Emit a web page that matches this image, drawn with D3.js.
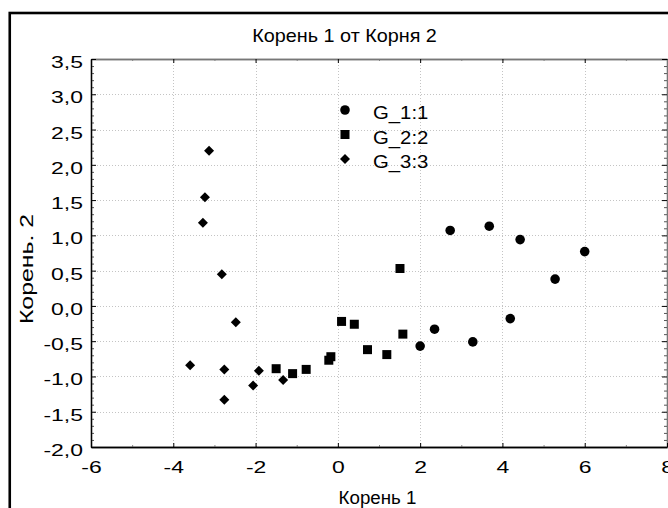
<!DOCTYPE html>
<html><head><meta charset="utf-8">
<script src="https://cdn.jsdelivr.net/npm/d3@7"></script>
<style>html,body{margin:0;padding:0;background:#fff;overflow:hidden}svg{display:block}</style>
</head><body><svg id="c" width="668" height="508"></svg>
<script>
// ---- data ----
const chartTitle = "Корень 1 от Корня 2";
const xLabel = "Корень 1";
const yLabel = "Корень. 2";
const seriesNames = ["G_1:1", "G_2:2", "G_3:3"];
const g1x = [2.73, 3.68, 4.43, 6.00, 5.28, 4.19, 3.28, 2.35, 2.00];
const g1y = [1.07, 1.13, 0.94, 0.77, 0.38, -0.18, -0.51, -0.33, -0.57];
const g2x = [1.51, 0.09, 0.40, 1.58, 0.72, 1.19, -0.22, -0.17, -0.77, -1.10, -1.50];
const g2y = [0.53, -0.22, -0.26, -0.40, -0.62, -0.69, -0.77, -0.72, -0.90, -0.96, -0.89];
const g3x = [-3.13, -3.23, -3.28, -2.82, -2.48, -3.59, -2.76, -2.76, -1.92, -2.06, -1.33];
const g3y = [2.20, 1.54, 1.18, 0.45, -0.23, -0.84, -0.90, -1.33, -0.92, -1.13, -1.05];
const xTickValues = [-6, -4, -2, 0, 2, 4, 6, 8];
const xTickLabels = ["-6", "-4", "-2", "0", "2", "4", "6", "8"];
const yTickValues = [-2.0, -1.5, -1.0, -0.5, 0.0, 0.5, 1.0, 1.5, 2.0, 2.5, 3.0, 3.5];
const yTickLabels = ["-2,0", "-1,5", "-1,0", "-0,5", "0,0", "0,5", "1,0", "1,5", "2,0", "2,5", "3,0", "3,5"];
const xGridValues = [-4, -2, 0, 2, 4, 6];
const yGridValues = [-1.5, -1.0, -0.5, 0.0, 0.5, 1.0, 1.5, 2.0, 2.5, 3.0];
const xMinorValues = [-5, -3, -1, 1, 3, 5, 7];
const yMinorValues = [-1.9,-1.8,-1.7,-1.6,-1.4,-1.3,-1.2,-1.1,-0.9,-0.8,-0.7,-0.6,-0.4,-0.3,-0.2,-0.1,
  0.1,0.2,0.3,0.4,0.6,0.7,0.8,0.9,1.1,1.2,1.3,1.4,1.6,1.7,1.8,1.9,2.1,2.2,2.3,2.4,2.6,2.7,2.8,2.9,3.1,3.2,3.3,3.4];

// ---- layout ----
const FONT = "'Liberation Sans', Arial, sans-serif";
const L = 91, R = 667, T = 59, B = 447;
const svg = d3.select("#c");
const x = d3.scaleLinear().domain([-6, 8]).range([L, R]);
const y = d3.scaleLinear().domain([-2, 3.5]).range([B, T]);

svg.append("rect").attr("width", 668).attr("height", 508).attr("fill", "#fff");
// outer frame
svg.append("rect").attr("x", 9.75).attr("y", 13).attr("width", 720).attr("height", 540)
  .attr("fill", "none").attr("stroke", "#000").attr("stroke-width", 2.6);

// grid
const grid = svg.append("g").attr("stroke", "#c4c4c4").attr("stroke-width", 1).attr("stroke-dasharray", "1,2");
grid.selectAll("line.vx").data(xGridValues).join("line")
  .attr("x1", d => Math.round(x(d)) + 0.5).attr("x2", d => Math.round(x(d)) + 0.5).attr("y1", T).attr("y2", B);
grid.selectAll("line.hy").data(yGridValues).join("line").attr("class", "hy")
  .attr("y1", d => Math.round(y(d)) + 0.5).attr("y2", d => Math.round(y(d)) + 0.5).attr("x1", L).attr("x2", R);

function styleAxis(g, domainColor, tickColor) {
  g.select(".domain").attr("stroke", domainColor).attr("stroke-width", 1.3);
  g.selectAll(".tick line").attr("stroke", tickColor).attr("stroke-width", 1);
  g.selectAll(".tick text").remove();
}

// minor ticks
const minorB = svg.append("g").attr("transform", `translate(0,${B})`)
  .call(d3.axisBottom(x).tickValues(xMinorValues).tickSize(-2).tickSizeOuter(0));
styleAxis(minorB, "#000", "#888");
const minorT = svg.append("g").attr("transform", `translate(0,${T})`)
  .call(d3.axisTop(x).tickValues(xMinorValues).tickSize(-2).tickSizeOuter(0));
styleAxis(minorT, "#777", "#888");
const minorL = svg.append("g").attr("transform", `translate(${L},0)`)
  .call(d3.axisLeft(y).tickValues(yMinorValues).tickSize(-3).tickSizeOuter(0));
styleAxis(minorL, "#000", "#555");
const minorR = svg.append("g").attr("transform", `translate(${R},0)`)
  .call(d3.axisRight(y).tickValues(yMinorValues).tickSize(-3).tickSizeOuter(0));
styleAxis(minorR, "#777", "#555");

// major ticks
const topAx = svg.append("g").attr("transform", `translate(0,${T})`)
  .call(d3.axisTop(x).tickValues(xTickValues).tickSize(-4).tickSizeOuter(0));
styleAxis(topAx, "#777", "#000");
const rightAx = svg.append("g").attr("transform", `translate(${R},0)`)
  .call(d3.axisRight(y).tickValues(yTickValues).tickSize(-5).tickSizeOuter(0));
styleAxis(rightAx, "#777", "#000");

const bottomAx = svg.append("g").attr("transform", `translate(0,${B})`)
  .call(d3.axisBottom(x).tickValues(xTickValues).tickSize(-4).tickSizeOuter(0)
    .tickFormat((d, i) => xTickLabels[i]));
bottomAx.select(".domain").attr("stroke", "#000").attr("stroke-width", 1.3);
bottomAx.selectAll(".tick line").attr("stroke", "#000");
bottomAx.selectAll(".tick text")
  .attr("y", null).attr("dy", null)
  .attr("transform", "translate(0,26) scale(1.35,1)")
  .attr("fill", "#000").style("font-family", FONT).style("font-size", "17px");

const leftAx = svg.append("g").attr("transform", `translate(${L},0)`)
  .call(d3.axisLeft(y).tickValues(yTickValues).tickSize(-5).tickSizeOuter(0)
    .tickFormat((d, i) => yTickLabels[i]));
leftAx.select(".domain").attr("stroke", "#000").attr("stroke-width", 1.3);
leftAx.selectAll(".tick line").attr("stroke", "#000");
leftAx.selectAll(".tick text")
  .attr("x", null).attr("dy", null)
  .attr("transform", "translate(-8,8.5) scale(1.35,1)")
  .attr("fill", "#000").style("font-family", FONT).style("font-size", "17px");

// texts
svg.append("text").attr("transform", "translate(344.6,42) scale(1.1,1)")
  .attr("text-anchor", "middle").style("font-family", FONT).style("font-size", "18px").text(chartTitle);
svg.append("text").attr("transform", `translate(${(L + R) / 2 - 1.5},504) scale(1.04,1)`)
  .attr("text-anchor", "middle").style("font-family", FONT).style("font-size", "18px").text(xLabel);
svg.append("text").attr("transform", "translate(33,269) rotate(-90) scale(1.38,1)")
  .attr("text-anchor", "middle").style("font-family", FONT).style("font-size", "18px").text(yLabel);

// markers
const circleSym = d3.symbol(d3.symbolCircle, 72);
const squareSym = d3.symbol(d3.symbolSquare, 81);
const diamondSym = d3.symbol(d3.symbolSquare, 50);
const pts = svg.append("g").attr("fill", "#000");
pts.selectAll("path.g1").data(d3.range(g1x.length)).join("path").attr("class", "g1")
  .attr("d", circleSym).attr("transform", i => `translate(${x(g1x[i])},${y(g1y[i])})`);
pts.selectAll("path.g2").data(d3.range(g2x.length)).join("path").attr("class", "g2")
  .attr("d", squareSym).attr("transform", i => `translate(${x(g2x[i])},${y(g2y[i])})`);
pts.selectAll("path.g3").data(d3.range(g3x.length)).join("path").attr("class", "g3")
  .attr("d", diamondSym).attr("transform", i => `translate(${x(g3x[i])},${y(g3y[i])}) rotate(45)`);

// legend
const legendSyms = [circleSym, squareSym, diamondSym];
const legendRot = [0, 0, 45];
const leg = svg.append("g");
const legRows = leg.selectAll("g").data(seriesNames).join("g")
  .attr("transform", (d, i) => `translate(345,${110 + i * 24.5})`);
legRows.append("path").attr("d", (d, i) => legendSyms[i]()).attr("fill", "#000")
  .attr("transform", (d, i) => `rotate(${legendRot[i]})`);
legRows.append("text").attr("transform", "translate(28,9.3) scale(1.13,1)")
  .style("font-family", FONT).style("font-size", "18px").text(d => d);
</script></body></html>
